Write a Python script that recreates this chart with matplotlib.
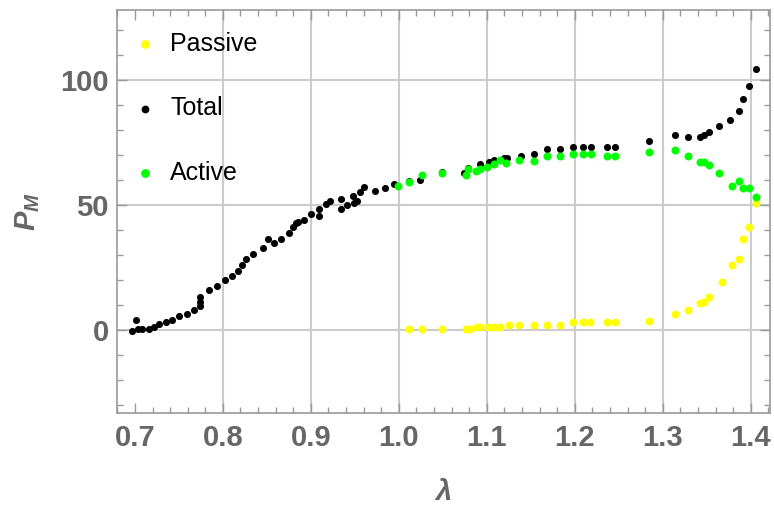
import matplotlib
matplotlib.use('Agg')
import matplotlib.pyplot as plt
import numpy as np

plt.rcParams['font.family'] = ['Liberation Sans', 'DejaVu Sans']
plt.rcParams['mathtext.fontset'] = 'custom'
plt.rcParams['mathtext.it'] = 'Liberation Sans:italic:bold'
plt.rcParams['mathtext.rm'] = 'Liberation Sans:bold'

# total
lam_total = [0.6963, 0.7011, 0.7031, 0.7079, 0.7156, 0.7219, 0.7276, 0.7352, 0.7420, 0.7496,
             0.7590, 0.7666, 0.7734, 0.7734, 0.7734, 0.7837, 0.7931, 0.8025, 0.8101, 0.8169,
             0.8222, 0.8268, 0.8343, 0.8461, 0.8513, 0.8586, 0.8657, 0.8756, 0.8801, 0.8831,
             0.8858, 0.8922, 0.8998, 0.9092, 0.9092, 0.9168, 0.9213, 0.9338, 0.9338, 0.9414,
             0.9478, 0.9489, 0.9520, 0.9557, 0.9603, 0.9724, 0.9841, 0.9943, 1.0113, 1.0235,
             1.0496, 1.0738, 1.0788, 1.0927, 1.1029, 1.1078, 1.1192, 1.1230, 1.1393, 1.1540,
             1.1684, 1.1832, 1.1975, 1.2097, 1.2187, 1.2361, 1.2460, 1.2849, 1.3141, 1.3285,
             1.3425, 1.3470, 1.3527, 1.3644, 1.3765, 1.3864, 1.3913, 1.3984, 1.4057]
p_total = [-0.4, 3.9, 0.4, 0.4, 0.5, 1.3, 2.3, 3.1, 4.0, 5.6,
           6.4, 8.1, 9.7, 11.3, 13.3, 15.9, 17.5, 20.0, 21.7, 23.5,
           26.0, 28.4, 30.4, 32.8, 36.3, 34.7, 36.3, 38.9, 41.3, 42.7,
           43.3, 43.9, 46.5, 48.3, 45.6, 50.2, 51.6, 52.4, 48.3, 50.0,
           53.5, 50.7, 51.7, 55.1, 57.1, 55.6, 56.7, 58.4, 59.7, 60.0,
           63.2, 62.7, 64.8, 66.4, 67.3, 68.0, 68.9, 68.9, 69.7, 70.5,
           72.3, 72.3, 73.1, 73.1, 73.1, 73.1, 73.1, 75.6, 78.0, 77.2,
           77.2, 78.0, 79.2, 81.5, 84.1, 87.5, 92.5, 97.7, 104.5]

# active
lam_active = [0.9989, 1.0113, 1.0258, 1.0496, 1.0768, 1.0788, 1.0882, 1.0927, 1.1003, 1.1078,
              1.1154, 1.1222, 1.1367, 1.1540, 1.1684, 1.1832, 1.1975, 1.2097, 1.2187, 1.2361,
              1.2460, 1.2849, 1.3141, 1.3285, 1.3425, 1.3470, 1.3527, 1.3644, 1.3791, 1.3864,
              1.3913, 1.3984, 1.4057]
p_active = [57.6, 59.3, 62.0, 62.8, 61.9, 64.4, 63.6, 64.3, 65.2, 66.3,
            68.0, 66.9, 67.9, 67.7, 69.5, 69.5, 70.4, 70.4, 70.4, 69.6,
            69.6, 71.3, 72.1, 69.6, 67.1, 67.1, 66.1, 62.7, 57.6, 59.5,
            56.9, 56.9, 53.3]

# passive
lam_passive = [1.0113, 1.0258, 1.0496, 1.0768, 1.0814, 1.0890, 1.0927, 1.1010, 1.1078, 1.1154,
               1.1249, 1.1367, 1.1540, 1.1684, 1.1832, 1.1975, 1.2097, 1.2173, 1.2361, 1.2460,
               1.2849, 1.3141, 1.3285, 1.3425, 1.3470, 1.3527, 1.3671, 1.3791, 1.3864, 1.3913,
               1.3984, 1.4057]
p_passive = [0.4, 0.4, 0.4, 0.4, 0.4, 1.2, 1.2, 1.2, 1.2, 1.2,
             2.1, 2.1, 2.1, 2.1, 2.1, 3.1, 3.1, 3.1, 3.1, 3.1,
             3.7, 6.4, 8.1, 10.7, 11.3, 13.3, 19.2, 26.0, 28.5, 36.3,
             41.3, 50.7]

xticks = [0.7, 0.8, 0.9, 1.0, 1.1, 1.2, 1.3, 1.4]
xgrid = [0.8, 0.9, 1.0, 1.1, 1.2, 1.3, 1.4]
yticks = [0, 50, 100]

gray = '#666666'
spine = '#999999'

fig = plt.figure(figsize=(7.74, 5.05), dpi=100)
ax = fig.add_axes([0.1516, 0.1822, 0.8432, 0.798])

for x in xgrid:
    ax.axvline(x, color='#cccccc', lw=1.5, zorder=0)
for y in yticks:
    ax.axhline(y, color='#cccccc', lw=1.5, zorder=0)

ax.scatter(lam_passive, p_passive, s=33, color='#ffff00', lw=0, zorder=3, label='Passive')
ax.scatter(lam_total, p_total, s=26, color='black', lw=0, zorder=4, label='Total')
ax.scatter(lam_active, p_active, s=33, color='#00ff00', lw=0, zorder=5, label='Active')

ax.set_xlim(0.681, 1.4219)
ax.set_ylim(-33.2, 128)
ax.set_xticks(xticks)
ax.set_xticklabels(['0.7', '0.8', '0.9', '1.0', '1.1', '1.2', '1.3', '1.4'])
ax.set_xticks(np.arange(0.68, 1.43, 0.02), minor=True)
ax.set_yticks(yticks)
ax.set_yticks(np.arange(-30, 130, 10), minor=True)

ax.tick_params(which='both', direction='in', top=True, right=True, color=spine,
               labelcolor=gray, labelsize=21, width=1)
ax.tick_params(which='major', length=7)
ax.tick_params(which='minor', length=4)
ax.tick_params(axis='x', pad=8)
ax.tick_params(axis='y', pad=6)
for lbl in ax.get_xticklabels() + ax.get_yticklabels():
    lbl.set_fontweight('bold')
for s in ax.spines.values():
    s.set_color(spine)
    s.set_linewidth(1.2)

ax.set_xlabel('λ', fontsize=21, fontweight='bold', fontstyle='italic', color=gray, labelpad=19)
ax.set_ylabel('$P_M$', fontsize=21, color=gray, labelpad=13)

ax.legend(loc='upper left', bbox_to_anchor=(0.0237, 0.946), frameon=False, fontsize=18,
          borderpad=0, borderaxespad=0, handlelength=1, handletextpad=0.5,
          labelspacing=1.62, scatterpoints=1, markerscale=1.1)

plt.savefig('out.png', dpi=100)
